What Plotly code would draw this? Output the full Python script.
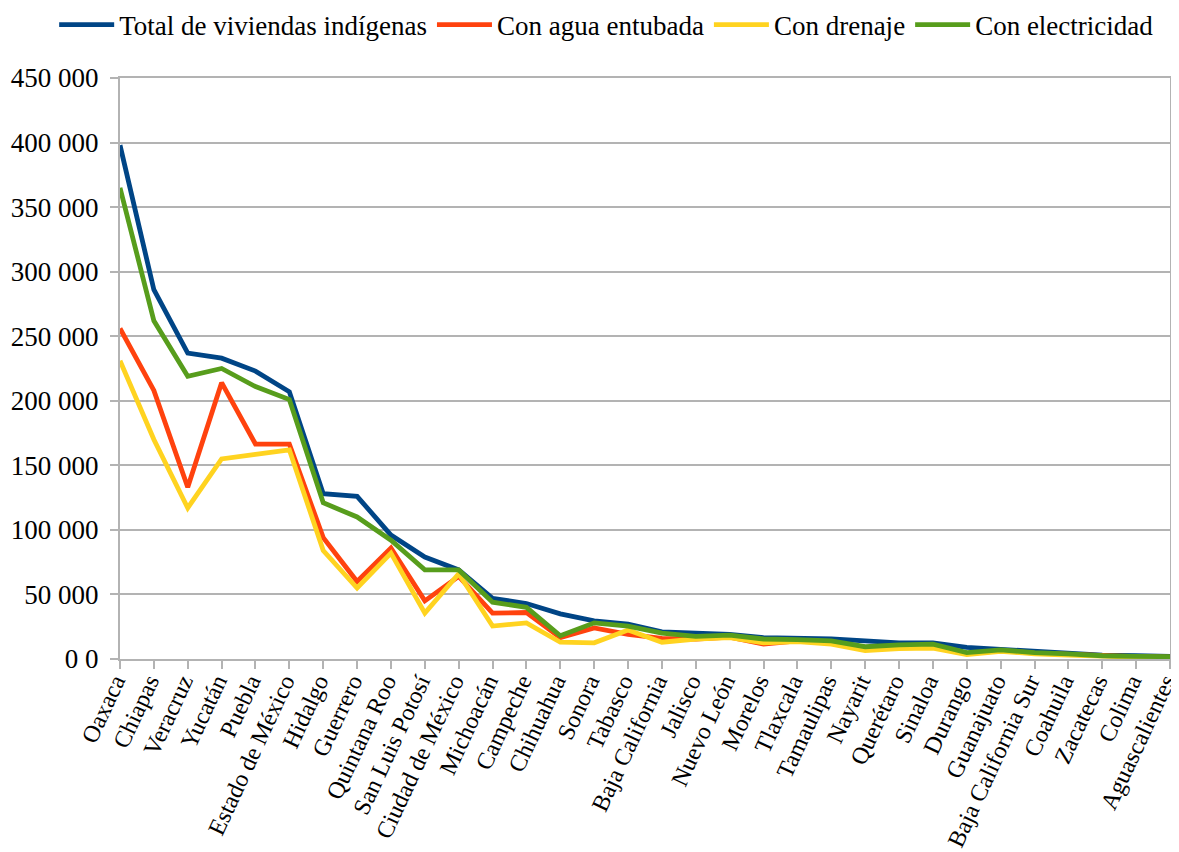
import plotly.graph_objects as go

states = ["Oaxaca", "Chiapas", "Veracruz", "Yucatán", "Puebla", "Estado de México",
          "Hidalgo", "Guerrero", "Quintana Roo", "San Luis Potosí", "Ciudad de México",
          "Michoacán", "Campeche", "Chihuahua", "Sonora", "Tabasco", "Baja California",
          "Jalisco", "Nuevo León", "Morelos", "Tlaxcala", "Tamaulipas", "Nayarit",
          "Querétaro", "Sinaloa", "Durango", "Guanajuato", "Baja California Sur",
          "Coahuila", "Zacatecas", "Colima", "Aguascalientes"]

total = [398000, 286000, 237000, 233000, 223000, 207000, 128000, 126000, 96000, 79000,
         69000, 47000, 43000, 35000, 29500, 27000, 21000, 20000, 19000, 16500, 16000,
         15500, 14000, 12500, 12500, 9000, 7500, 6000, 4500, 3000, 2500, 2000]
agua = [256000, 208000, 133000, 214000, 166500, 166500, 94000, 60000, 86000, 45000,
        64000, 35500, 36000, 16500, 24000, 19000, 16000, 15500, 17000, 11500, 14000,
        12500, 8000, 9000, 9500, 4000, 6500, 4500, 3500, 2000, 1800, 1500]
drenaje = [231000, 170000, 117000, 155000, 158500, 162000, 84000, 55000, 82000, 35500,
           66000, 25500, 28000, 13000, 12500, 22500, 13000, 15500, 16500, 12500, 13500,
           11500, 6500, 8000, 8500, 3500, 6000, 4000, 3000, 2000, 1500, 1200]
electricidad = [365000, 262000, 219000, 225000, 211000, 201000, 121000, 110000, 92000, 69000,
                69000, 44000, 40000, 18000, 28000, 25500, 20000, 17500, 18500, 15500, 15000,
                14000, 9500, 11000, 11500, 5000, 7000, 5000, 4000, 2500, 2000, 1800]

series_names = ["Total de viviendas indígenas", "Con agua entubada", "Con drenaje", "Con electricidad"]
series_values = [total, agua, drenaje, electricidad]
series_colors = ["#004586", "#ff420e", "#ffd320", "#579d1c"]

y_tickvals = [0, 50000, 100000, 150000, 200000, 250000, 300000, 350000, 400000, 450000]
y_ticktext = ["0 0", "50 000", "100 000", "150 000", "200 000", "250 000",
              "300 000", "350 000", "400 000", "450 000"]

FONT = "Liberation Serif"

fig = go.Figure()
for name, vals, col in zip(series_names, series_values, series_colors):
    fig.add_trace(go.Scatter(x=states, y=vals, mode="lines", name=name,
                             line=dict(color=col, width=4.8)))

grid = "#b3b3b3"
# page body has an 8px margin, so the figure is drawn 8px in from the window corner
fig.update_layout(
    width=1171, height=844,
    paper_bgcolor="white", plot_bgcolor="white",
    font=dict(family=FONT, size=25, color="black"),
    margin=dict(l=112, r=9, t=70, b=193, autoexpand=False),
    showlegend=True,
    legend=dict(orientation="h", xref="paper", yref="paper",
                x=-0.0627, xanchor="left", y=1.0912, yanchor="middle",
                font=dict(family=FONT, size=27, color="black"), itemwidth=55,
                bgcolor="rgba(0,0,0,0)"),
    xaxis=dict(type="category", range=[0, len(states) - 1], showgrid=False,
               automargin=False,
               showline=True, linecolor=grid, linewidth=2, mirror=True,
               ticks="outside", ticklen=8, tickcolor=grid, tickwidth=2,
               tickangle=-65, ticklabelstandoff=-11, ticklabelshift=-5,
               tickfont=dict(family=FONT, size=24, color="black")),
    yaxis=dict(range=[0, 450000], tickvals=y_tickvals, ticktext=y_ticktext,
               automargin=False,
               showgrid=True, gridcolor=grid, gridwidth=2, zeroline=False,
               showline=True, linecolor=grid, linewidth=2, mirror=True,
               ticks="outside", ticklen=8, tickcolor=grid, tickwidth=2,
               ticklabelstandoff=6,
               tickfont=dict(family=FONT, size=27, color="black")),
)

fig.write_html("out.html")
